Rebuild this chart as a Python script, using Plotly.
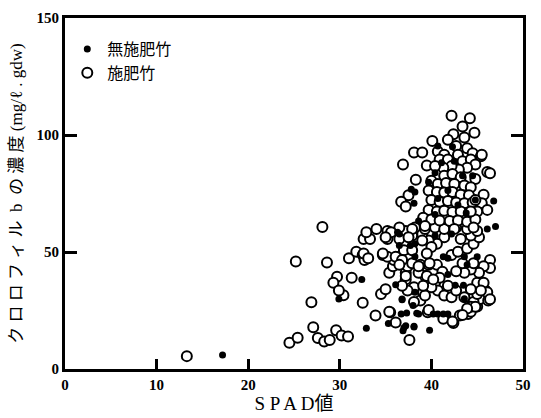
import plotly.graph_objects as go

# 無施肥竹 (filled)
unfert_x = [17.2, 29.9, 32.9, 35.3, 36.8, 36.7, 37.3, 36.9, 37.2, 38.1, 39.8, 40.2, 40.7, 41.3, 41.8,
            38.0, 38.6, 32.4, 36.5, 36.5, 38.2, 41.3, 41.8, 43.6, 45.0, 42.6, 43.5, 36.1, 38.2, 36.8,
            38.4, 40.7, 42.3, 37.8, 38.2, 38.1, 46.8, 46.1, 47.0, 41.1, 42.5, 40.4, 43.4, 44.5, 39.7,
            41.8, 40.7, 42.9, 40.4, 43.8, 38.6, 36.3, 40.4, 42.2, 43.9, 41.8, 43.6, 37.0, 38.1, 37.7,
            38.2, 44.8]
unfert_y = [6.0, 29.9, 17.4, 19.4, 29.9, 23.5, 23.9, 16.3, 18.5, 18.0, 16.6, 23.5, 23.5, 23.5, 23.5,
            27.1, 23.5, 38.3, 57.7, 52.8, 53.5, 48.0, 47.3, 48.0, 48.0, 35.8, 35.8, 36.0, 32.8, 29.6,
            23.8, 95.3, 95.0, 76.8, 75.6, 70.8, 71.8, 59.8, 60.9, 88.1, 88.8, 83.9, 82.6, 82.6, 79.8,
            76.3, 72.9, 70.1, 66.0, 66.7, 63.2, 58.4, 57.0, 57.7, 44.5, 40.4, 30.0, 17.6, 18.3, 52.8,
            48.0, 72.2]

# 施肥竹 (open)
fert_x = [13.3, 24.5, 25.4, 27.1, 27.6, 28.3, 28.9, 29.6, 30.2, 30.9, 26.9, 30.4, 32.5, 33.9, 35.5,
          36.1, 37.6, 39.6, 41.3, 42.4, 43.1, 44.0, 45.0, 45.3, 44.2,
          25.2, 28.6, 31.0, 31.8, 32.5, 32.7, 32.6, 33.3, 32.9, 34.0, 35.2, 35.2, 34.7, 35.4, 29.7,
          29.3, 29.9, 31.3, 34.5, 35.0, 35.4, 28.1,
          46.4, 46.4, 46.2, 45.9, 45.0, 44.6, 44.3, 42.3, 39.7, 39.1, 40.4, 39.3, 40.7, 41.4, 42.2,
          42.7, 43.6, 44.3, 45.0, 45.7, 38.8, 38.1, 37.4, 37.2, 37.2, 37.4, 36.5, 37.0, 38.8, 39.7,
          40.6, 42.2, 42.9, 43.9, 44.6, 45.2, 44.3, 43.2, 41.4, 40.6, 39.7, 39.0, 37.9, 37.2, 38.2,
          39.3, 40.4, 41.4, 42.7, 43.9, 45.0, 45.7, 45.2, 44.3, 43.6, 42.7, 41.2, 40.9, 41.8, 44.3,
          44.6, 43.4, 35.8, 35.9, 38.6,
          42.2, 44.2, 43.4, 44.7, 42.4, 43.6, 41.8, 40.1, 42.7, 43.9, 44.5, 45.4, 38.1, 39.0, 36.9,
          39.5, 46.1, 46.4, 38.3, 37.5, 36.7, 37.2, 45.7, 45.5, 46.1,
          40.7, 41.4, 40.9, 41.8, 42.9, 43.4, 44.3, 44.8, 43.9, 43.0, 42.2, 41.3, 40.4, 41.4, 42.3,
          43.2, 44.8, 40.0, 40.7, 41.6, 42.5, 43.6, 44.3, 39.7, 40.6, 41.4, 42.3, 43.2, 44.1, 40.0,
          40.9, 41.8, 42.7, 43.6, 44.5, 39.7, 40.6, 41.4, 42.3, 43.2, 44.1, 45.0, 39.1, 40.0, 40.9,
          42.0, 42.9, 43.9, 44.8, 39.3, 42.5, 44.6, 36.5, 37.9, 35.6,
          45.5, 44.8, 44.3, 46.1, 46.4, 45.4, 44.8, 43.9, 43.4,
          38.1, 39.3, 40.0, 39.1, 36.8, 37.2, 35.2, 34.7, 36.1, 36.8, 36.5, 37.9, 38.6, 39.8, 39.5,
          40.2, 35.0, 36.5, 37.5, 39.0, 40.0, 39.5, 37.9, 32.6, 33.1]
fert_y = [5.5, 11.2, 13.4, 17.8, 13.2, 11.8, 12.4, 16.6, 14.3, 13.9, 28.5, 31.5, 28.3, 22.9, 24.3,
          19.9, 12.4, 24.2, 21.5, 19.7, 22.9, 23.5, 26.7, 29.9, 30.6,
          45.9, 45.5, 47.3, 50.1, 48.7, 46.6, 55.6, 55.6, 58.4, 59.8, 59.0, 55.6, 48.7, 41.1, 39.4,
          36.9, 33.5, 39.0, 32.1, 34.1, 24.5, 60.7,
          46.6, 43.2, 29.3, 33.5, 36.9, 28.6, 24.5, 20.3, 25.2, 32.8, 36.9, 39.7, 33.5, 31.4, 30.7,
          33.5, 30.7, 26.6, 32.1, 36.9, 29.3, 34.9, 33.5, 38.3, 41.1, 43.9, 48.0, 50.7, 44.5, 44.5,
          44.5, 48.7, 50.1, 51.5, 53.5, 56.3, 57.0, 55.6, 56.3, 53.5, 54.9, 57.7, 57.0, 59.0, 60.5,
          59.8, 60.5, 59.8, 60.5, 59.8, 59.0, 43.9, 41.1, 42.5, 41.1, 41.8, 41.6, 39.0, 35.6, 34.1,
          45.2, 45.2, 43.9, 46.6, 41.1,
          108.2, 107.2, 103.6, 101.0, 100.3, 98.9, 98.0, 97.4, 95.3, 94.3, 92.2, 90.9, 92.5, 92.5, 87.4,
          87.0, 84.2, 83.7, 80.9, 74.3, 71.5, 69.4, 74.5, 70.8, 68.0,
          92.9, 91.6, 89.5, 89.5, 91.6, 88.8, 89.5, 87.4, 86.0, 85.3, 86.7, 86.0, 86.7, 82.6, 83.3,
          81.9, 81.2, 80.5, 79.1, 79.5, 79.1, 78.4, 77.7, 76.3, 75.6, 75.4, 75.6, 74.5, 74.3, 72.2,
          71.5, 71.8, 71.2, 70.8, 71.2, 68.0, 67.3, 67.6, 67.1, 67.3, 66.7, 67.3, 64.6, 63.9, 63.5,
          63.2, 63.5, 62.9, 63.9, 61.1, 59.8, 60.5, 60.5, 59.8, 58.4,
          91.6, 72.2, 67.3, 32.8, 29.8, 33.5, 26.6, 25.9, 23.1,
          28.6, 31.4, 34.9, 35.6, 35.6, 39.7, 48.0, 49.4, 48.0, 46.6, 44.5, 45.2, 43.9, 45.2, 39.7,
          38.3, 56.3, 55.6, 56.3, 54.9, 52.1, 49.4, 50.7, 49.4, 47.3]

x_ticks = [0, 10, 20, 30, 40, 50]
y_ticks = [0, 50, 100, 150]

serif = "Liberation Serif, Noto Sans CJK JP, serif"
cjk = "Noto Sans CJK JP, Liberation Serif, sans-serif"

fig = go.Figure()
fig.add_trace(go.Scatter(
    x=fert_x, y=fert_y, mode="markers", name="施肥竹", legendrank=2,
    marker=dict(symbol="circle", size=10, color="white", line=dict(color="black", width=2)),
))
fig.add_trace(go.Scatter(
    x=unfert_x, y=unfert_y, mode="markers", name="無施肥竹", legendrank=1,
    marker=dict(symbol="circle", size=7, color="black", line=dict(color="black", width=0)),
))

axis_common = dict(
    showgrid=False, zeroline=False, showline=True, linecolor="black", linewidth=3,
    ticks="inside", tickcolor="black", tickwidth=2.5,
    tickfont=dict(family=serif, size=15, color="black"),
)

fig.update_layout(
    width=541, height=418,
    margin=dict(l=65, r=10, t=15, b=39),
    paper_bgcolor="white", plot_bgcolor="white",
    showlegend=True,
    legend=dict(
        x=0.005, y=0.96, xanchor="left", yanchor="top",
        bgcolor="rgba(0,0,0,0)", borderwidth=0,
        font=dict(family=cjk, size=16, color="black"),
        itemwidth=30,
    ),
    xaxis=dict(
        range=[0, 50], tickvals=x_ticks, ticktext=[f"<b>{v}</b>" for v in x_ticks],
        ticklen=10, mirror=True,
        title=dict(text="S P A D値", font=dict(family=serif, size=19, color="black"), standoff=2),
        **axis_common,
    ),
    yaxis=dict(
        range=[0, 150], tickvals=y_ticks, ticktext=[f"<b>{v}</b>" for v in y_ticks],
        ticklen=12, mirror="ticks",
        title=dict(text="ク ロ ロ フ ィ ル  b  の 濃 度 (mg/ℓ . gdw)",
                   font=dict(family=serif, size=17, color="black"), standoff=10),
        **axis_common,
    ),
)

fig.write_html("out.html")
